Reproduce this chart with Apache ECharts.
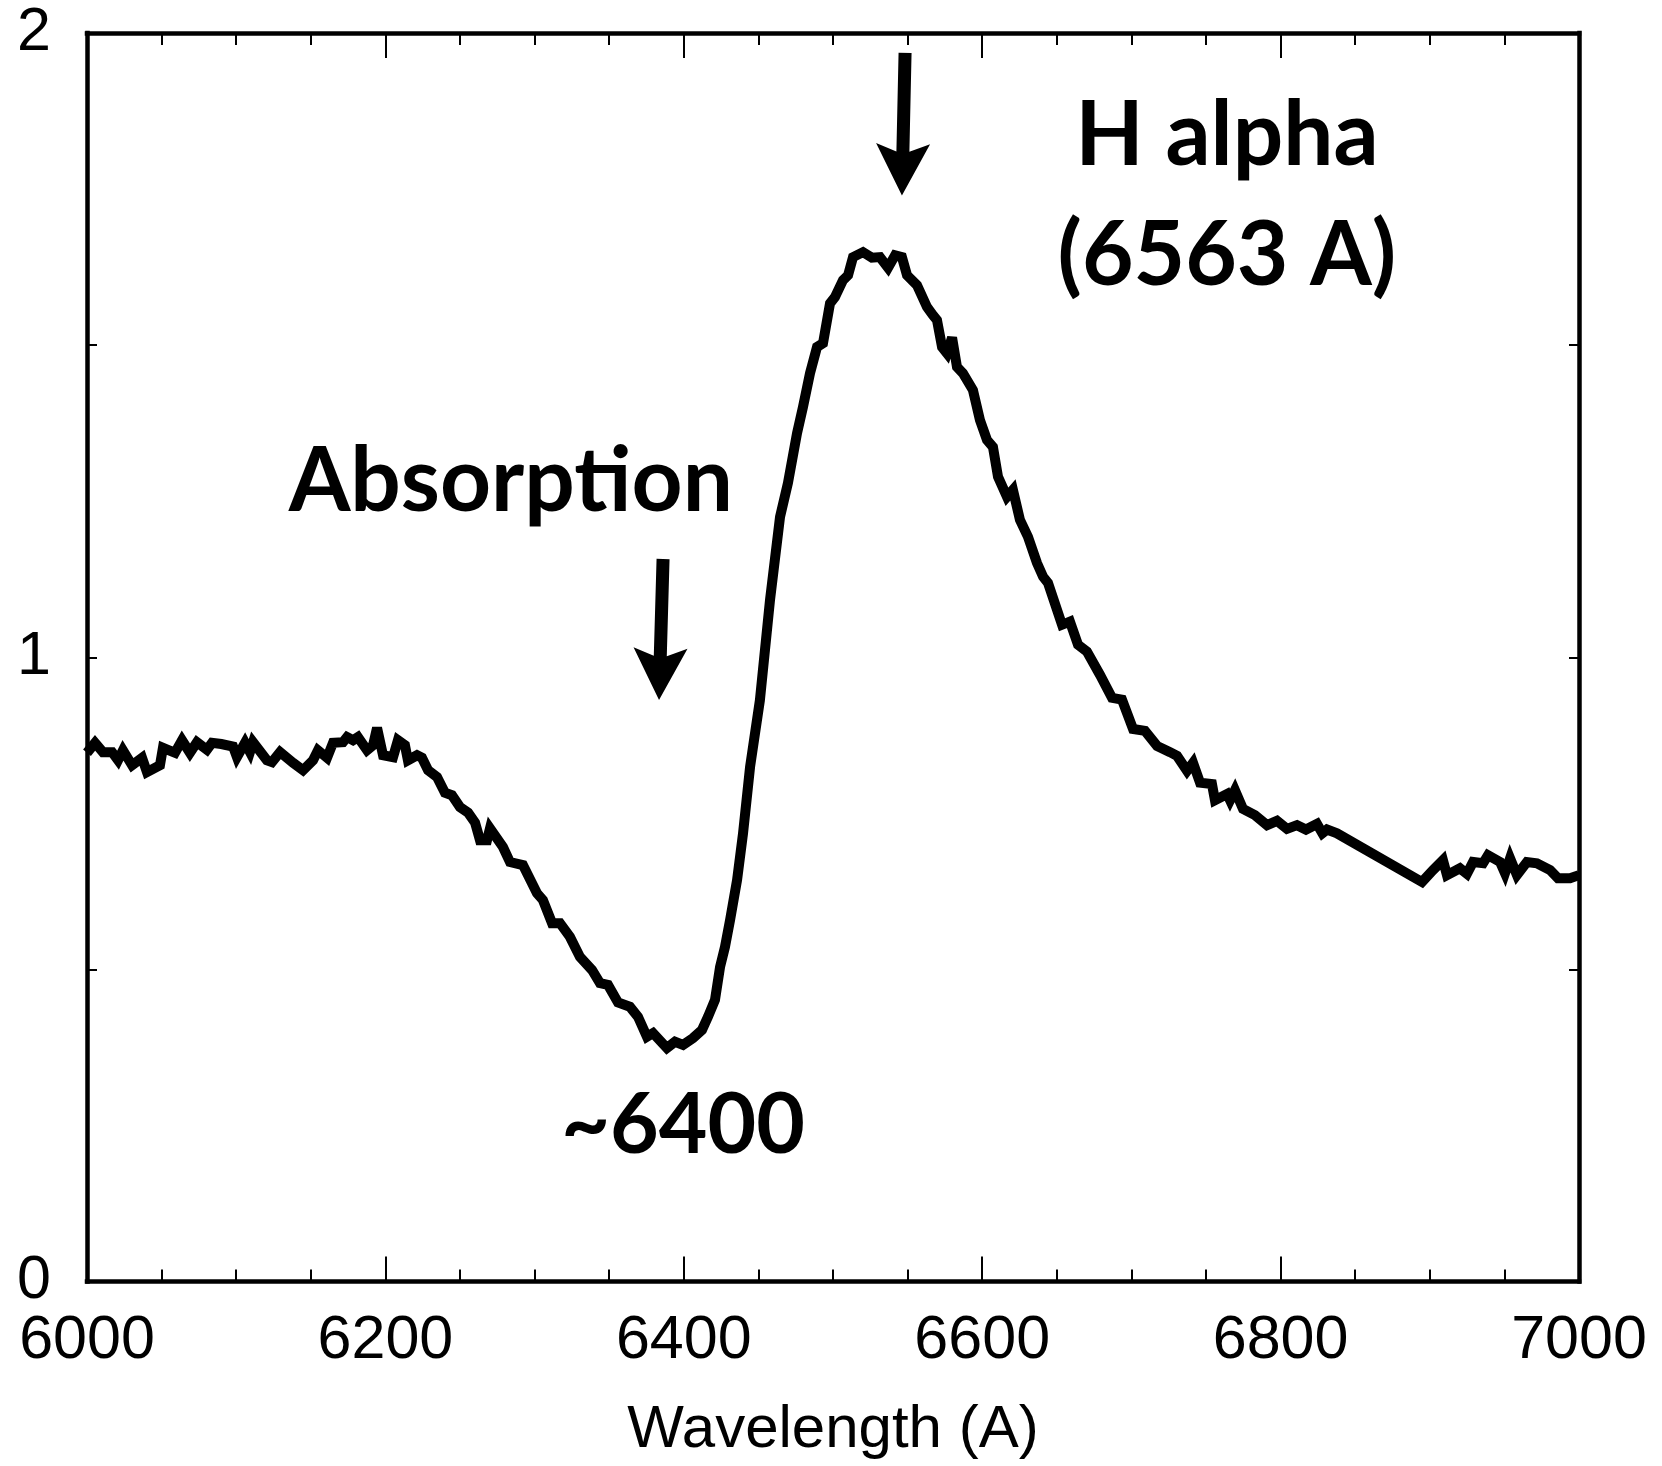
<!DOCTYPE html>
<html>
<head>
<meta charset="utf-8">
<script src="https://cdn.jsdelivr.net/npm/echarts@6/dist/echarts.min.js"></script>
<style>
html,body{margin:0;padding:0;background:#fff;}
#chart{width:1662px;height:1466px;}
</style>
</head>
<body>
<div id="chart"></div>
<script>
// ---- data ----
const wavelength = [
6000,6005.4,6010.7,6016.8,6020.8,6024.1,6030.2,6036.9,6040.2,6048.9,6050.9,6059.0,6063.7,6069.0,6073.7,6080.4,6083.8,6090.0,6097.9,6100.5,
6105.9,6109.2,6111.3,6120.6,6124.0,6129.4,6138.1,6144.8,6151.5,6154.8,6160.9,6164.9,6171.6,6174.3,6178.3,6181.6,6187.7,6191.7,6194.4,6198.4,
6205.1,6208.4,6213.1,6215.1,6221.2,6224.5,6228.6,6234.6,6239.9,6244.6,6250.0,6255.4,6260.1,6263.4,6268.1,6270.1,6278.8,6283.5,6292.2,6301.6,
6305.6,6311.7,6317.0,6323.7,6330.4,6338.5,6343.8,6349.2,6355.9,6363.9,6369.3,6375.3,6379.4,6388.7,6394.1,6399.5,6406.2,6412.2,6416.2,6420.9,
6424.3,6427.6,6431.0,6435.7,6439.7,6444.4,6451.0,6457.8,6464.5,6469.8,6475.9,6479.9,6484.6,6489.3,6493.3,6498.0,6501.3,6506.7,6510.1,6513.4,
6520.1,6526.1,6531.5,6536.9,6541.6,6546.2,6549.6,6556.3,6563.0,6567.0,6569.7,6573.1,6576.4,6579.8,6583.1,6587.1,6593.8,6598.5,6603.2,6607.2,
6610.6,6616.6,6620.6,6625.3,6630.7,6636.7,6640.8,6644.1,6653.5,6658.8,6664.2,6670.2,6678.9,6687.0,6693.7,6701.1,6709.1,6717.2,6725.9,6730.6,
6737.3,6741.3,6746.0,6754.0,6756.0,6764.1,6766.1,6769.4,6774.8,6782.8,6790.9,6797.6,6804.3,6811.0,6817.0,6824.4,6828.0,6831.1,6837.8,
6894.8,6902.1,6908.8,6911.5,6920.2,6924.9,6929.0,6935.7,6939.0,6947.1,6950.4,6953.8,6958.4,6965.1,6971.8,6980.6,6985.9,6994.0,7000
];
const flux = [
0.847,0.863,0.848,0.848,0.835,0.851,0.827,0.839,0.816,0.827,0.855,0.847,0.867,0.847,0.864,0.852,0.863,0.861,0.857,0.840,
0.863,0.848,0.864,0.835,0.832,0.848,0.831,0.819,0.835,0.851,0.839,0.863,0.864,0.872,0.867,0.872,0.851,0.859,0.887,0.843,
0.840,0.867,0.859,0.835,0.843,0.839,0.819,0.808,0.783,0.779,0.760,0.751,0.735,0.707,0.707,0.726,0.696,0.672,0.667,0.622,
0.611,0.574,0.574,0.552,0.520,0.499,0.478,0.475,0.447,0.440,0.424,0.392,0.398,0.374,0.384,0.379,0.390,0.403,0.424,0.451,
0.504,0.536,0.579,0.643,0.718,0.824,0.931,1.092,1.225,1.279,1.359,1.401,1.455,1.497,1.503,1.567,1.577,1.604,1.612,1.641,
1.649,1.640,1.641,1.624,1.644,1.641,1.612,1.596,1.561,1.548,1.540,1.497,1.487,1.512,1.465,1.455,1.428,1.380,1.348,1.337,
1.289,1.257,1.268,1.220,1.193,1.151,1.129,1.119,1.052,1.057,1.020,1.009,0.972,0.935,0.932,0.885,0.882,0.858,0.848,0.842,
0.818,0.831,0.799,0.797,0.771,0.781,0.771,0.787,0.757,0.747,0.731,0.738,0.725,0.731,0.724,0.733,0.718,0.724,0.718,
0.640,0.659,0.675,0.651,0.662,0.653,0.672,0.670,0.683,0.672,0.654,0.678,0.651,0.672,0.670,0.659,0.646,0.646,0.651
];
const xTickValues = [6000, 6200, 6400, 6600, 6800, 7000];
const yLabelValues = [0, 1, 2];

// annotations (data coordinates)
const noteTexts = ['H alpha', '(6563 A)', 'Absorption', '~6400'];
const noteAnchors = [[6764, 1.835], [6764, 1.643], [6284, 1.280], [6399.5, 0.250]];
const noteSizes = [89, 89, 89, 84];
const arrowFrom = [[6548.3, 1.968], [6386.1, 1.1574]];
const arrowTo = [[6546.2, 1.7396], [6383.4, 0.9315]];

const points = wavelength.map((w, i) => [w, flux[i]]);

const chart = echarts.init(document.getElementById('chart'), null, {renderer: 'canvas'});
const labelFont = {fontFamily: 'Liberation Sans, Arial, sans-serif', fontSize: 61, color: '#000'};
const titleFont = {fontFamily: 'Liberation Sans, Arial, sans-serif', fontSize: 60, color: '#000'};
const axisLineStyle = {color: '#000', width: 4.5, cap: 'square'};

function xAxisCfg(pos, showLabel) {
  return {
    type: 'value', position: pos, min: 6000, max: 7000, interval: 200,
    axisLine: {show: true, onZero: false, lineStyle: axisLineStyle},
    axisTick: {show: true, inside: true, length: 25, lineStyle: {color: '#000', width: 2}},
    minorTick: {show: true, splitNumber: 4, length: 12, lineStyle: {color: '#000', width: 2}},
    splitLine: {show: false}, minorSplitLine: {show: false},
    axisLabel: Object.assign({show: showLabel, margin: 29,
      formatter: v => xTickValues.includes(v) ? String(v) : ''}, labelFont),
    name: showLabel ? 'Wavelength (A)' : '',
    nameLocation: 'middle', nameGap: 119,
    nameTextStyle: titleFont
  };
}
function yAxisCfg(pos, showLabel) {
  return {
    type: 'value', position: pos, min: 0, max: 2, interval: 0.5,
    axisLine: {show: true, onZero: false, lineStyle: axisLineStyle},
    axisTick: {show: true, inside: true, length: 10, lineStyle: {color: '#000', width: 2}},
    splitLine: {show: false},
    axisLabel: Object.assign({show: showLabel, margin: 36,
      formatter: v => yLabelValues.includes(v) ? String(v) : ''}, labelFont)
  };
}

chart.setOption({
  animation: false,
  backgroundColor: '#fff',
  grid: {left: 87, right: 83, top: 33, bottom: 184.5, containLabel: false, outerBoundsMode: 'none'},
  xAxis: [xAxisCfg('bottom', true), xAxisCfg('top', false)],
  yAxis: [yAxisCfg('left', true), yAxisCfg('right', false)],
  series: [{
    type: 'line', data: points, xAxisIndex: 0, yAxisIndex: 0,
    showSymbol: false, symbol: 'none', smooth: false,
    lineStyle: {color: '#000', width: 10, join: 'miter', miterLimit: 4}
  }]
});

const px = p => chart.convertToPixel({gridIndex: 0}, p);
const graphics = [];
const noteFont = 'Lato, "Open Sans", sans-serif';
noteTexts.forEach((t, i) => {
  const p = px(noteAnchors[i]);
  graphics.push({type: 'text', z: 10, style: {text: t, x: p[0], y: p[1],
    fontFamily: noteFont, fontWeight: 'bold', fontSize: noteSizes[i], fill: '#000',
    align: 'center', verticalAlign: 'middle'}});
});
arrowFrom.forEach((f, i) => {
  const a = px(f), b = px(arrowTo[i]);
  const dx = b[0] - a[0], dy = b[1] - a[1], L = Math.hypot(dx, dy);
  const ux = dx / L, uy = dy / L, nx = -uy, ny = ux;
  const sw = 6.5, headLen = 52, notch = 8, hw = 27;
  const j = [b[0] - ux * (headLen - notch), b[1] - uy * (headLen - notch)];
  const br = [b[0] - ux * headLen, b[1] - uy * headLen];
  graphics.push({type: 'polygon', z: 10, shape: {points: [
    [a[0] + nx * sw, a[1] + ny * sw],
    [j[0] + nx * sw, j[1] + ny * sw],
    [br[0] + nx * hw, br[1] + ny * hw],
    [b[0], b[1]],
    [br[0] - nx * hw, br[1] - ny * hw],
    [j[0] - nx * sw, j[1] - ny * sw],
    [a[0] - nx * sw, a[1] - ny * sw]
  ]}, style: {fill: '#000'}});
});
chart.setOption({graphic: graphics});
</script>
</body>
</html>
